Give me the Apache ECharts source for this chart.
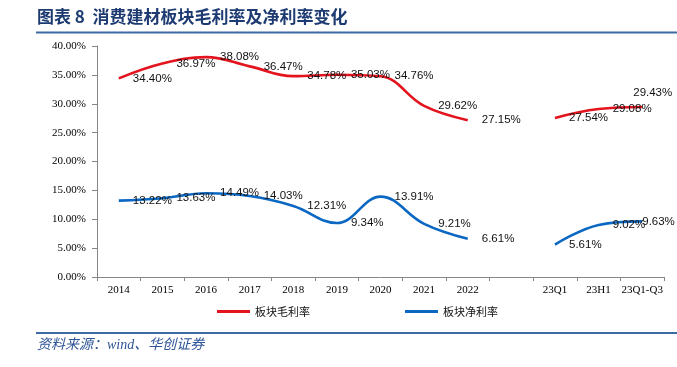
<!DOCTYPE html>
<html>
<head>
<meta charset="utf-8">
<script src="https://cdn.jsdelivr.net/npm/echarts@6/dist/echarts.min.js"></script>
<style>
html,body{margin:0;padding:0;background:#fff;}
#chart{width:677px;height:367px;}
</style>
</head>
<body>
<div id="chart"></div>
<script>
const categories = ['2014','2015','2016','2017','2018','2019','2020','2021','2022','','23Q1','23H1','23Q1-Q3'];
const grossMargin = [34.40,36.97,38.08,36.47,34.78,35.03,34.76,29.62,27.15,null,27.54,29.08,29.43];
const netMargin = [13.22,13.63,14.49,14.03,12.31,9.34,13.91,9.21,6.61,null,5.61,9.02,9.63];
const seriesNames = ['板块毛利率','板块净利率'];
const titleText = '图表 8  消费建材板块毛利率及净利率变化';
const sourceText = '资料来源：wind、华创证券';

const RED = '#e3141d';
const BLUE = '#0a67c2';

function buildData(arr, overrides) {
  return arr.map((v, i) => {
    if (v === null) return '-';
    if (overrides[i]) return { value: v, label: overrides[i] };
    return v;
  });
}

const labelBase = {
  show: true,
  position: 'right',
  distance: 14,
  color: '#111',
  fontFamily: 'Liberation Sans',
  fontSize: 11.5,
  formatter: p => p.value.toFixed(2) + '%'
};

const chart = echarts.init(document.getElementById('chart'), null, {renderer: 'canvas'});
chart.setOption({
  animation: false,
  backgroundColor: '#fff',
  grid: { left: 97, right: 13, top: 46, bottom: 90, containLabel: false },
  legend: {
    data: seriesNames,
    left: 217,
    top: 306,
    padding: 0,
    itemWidth: 33,
    itemHeight: 3,
    itemGap: 95,
    icon: 'rect',
    textStyle: { fontFamily: 'Noto Sans CJK SC', fontSize: 11, color: '#111' }
  },
  xAxis: {
    type: 'category',
    data: categories,
    boundaryGap: true,
    axisLine: { lineStyle: { color: '#868686', width: 1 } },
    axisTick: { show: true, length: 4, lineStyle: { color: '#868686' } },
    axisLabel: { interval: 0, margin: 8, color: '#000', fontFamily: 'Liberation Serif', fontSize: 11 }
  },
  yAxis: {
    type: 'value',
    min: 0, max: 40, interval: 5,
    axisLine: { show: true, lineStyle: { color: '#868686', width: 1 } },
    axisTick: { show: true, length: 5, lineStyle: { color: '#868686' } },
    splitLine: { show: false },
    axisLabel: { margin: 11, color: '#000', fontFamily: 'Liberation Serif', fontSize: 11,
      formatter: v => v.toFixed(2) + '%' }
  },
  series: [
    {
      name: seriesNames[0],
      type: 'line',
      smooth: 0.4,
      connectNulls: false,
      symbol: 'circle',
      symbolSize: 0.1,
      showSymbol: true,
      itemStyle: { color: RED },
      lineStyle: { color: RED, width: 2.6 },
      label: labelBase,
      data: buildData(grossMargin, { 12: { offset: [-23, -14] } })
    },
    {
      name: seriesNames[1],
      type: 'line',
      smooth: 0.4,
      connectNulls: false,
      symbol: 'circle',
      symbolSize: 0.1,
      showSymbol: true,
      itemStyle: { color: BLUE },
      lineStyle: { color: BLUE, width: 2.6 },
      label: labelBase,
      data: buildData(netMargin, { 12: { offset: [-14, 0] } })
    }
  ],
  graphic: [
    { type: 'text', left: 37, top: 8,
      style: { text: titleText, fill: '#1d3b72', font: 'bold 17px "Noto Sans CJK SC"' } },
    { type: 'line', shape: { x1: 36, y1: 32.5, x2: 677, y2: 32.5 },
      style: { stroke: '#3d6aa3', lineWidth: 2 } },
    { type: 'line', shape: { x1: 36, y1: 333, x2: 677, y2: 333 },
      style: { stroke: '#3d6aa3', lineWidth: 2 } },
    { type: 'text', left: 37, top: 338,
      style: { text: sourceText, fill: '#2e5597', font: 'italic 14px "Liberation Serif", "Noto Sans CJK SC"' } }
  ]
});
</script>
</body>
</html>
